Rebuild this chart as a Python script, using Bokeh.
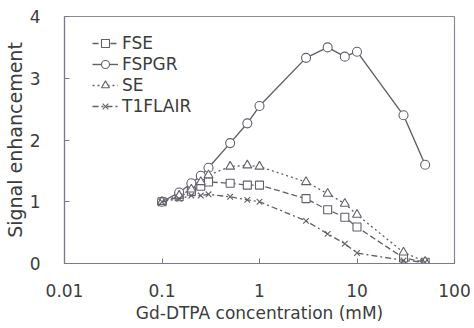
from bokeh.plotting import figure
from bokeh.models import FixedTicker, CustomJSTickFormatter, Legend, LegendItem
from bokeh.embed import file_html
from bokeh.resources import INLINE

conc = [0.1, 0.15, 0.2, 0.25, 0.3, 0.5, 0.75, 1, 3, 5, 7.5, 10, 30, 50]
fse = [1.0, 1.08, 1.17, 1.25, 1.32, 1.30, 1.27, 1.27, 1.05, 0.87, 0.75, 0.59, 0.09, 0.02]
fspgr = [1.0, 1.15, 1.3, 1.42, 1.55, 1.95, 2.27, 2.55, 3.33, 3.5, 3.35, 3.43, 2.4, 1.6]
se = [1.0, 1.1, 1.2, 1.32, 1.43, 1.57, 1.59, 1.57, 1.32, 1.13, 0.97, 0.79, 0.18, 0.03]
t1flair = [1.0, 1.05, 1.1, 1.1, 1.12, 1.08, 1.03, 1.0, 0.69, 0.48, 0.32, 0.17, 0.05, 0.02]

x_ticks = [0.01, 0.1, 1, 10, 100]
y_ticks = [0, 1, 2, 3, 4]

FONT = "DejaVu Sans"
TXT = "#3c3c3c"
LC = "#606068"

p = figure(width=474, height=328, x_axis_type="log", x_range=(0.01, 100), y_range=(0, 4),
           output_backend="svg", toolbar_location=None,
           min_border_left=64, min_border_right=20, min_border_top=16, min_border_bottom=65)
p.xgrid.visible = False
p.ygrid.visible = False
p.outline_line_color = "#8a8a98"
p.outline_line_width = 1.2

for ax in (p.xaxis[0], p.yaxis[0]):
    ax.axis_line_color = "#7a7a8c"
    ax.axis_line_width = 1.2
    ax.major_tick_in = 5
    ax.major_tick_out = 0
    ax.major_tick_line_color = "#7a7a8c"
    ax.minor_tick_line_color = None
    ax.major_label_text_font = FONT
    ax.major_label_text_font_size = "17px"
    ax.major_label_text_color = TXT
    ax.axis_label_text_font = FONT
    ax.axis_label_text_font_size = "17px"
    ax.axis_label_text_font_style = "normal"
    ax.axis_label_text_color = TXT

p.xaxis.ticker = FixedTicker(ticks=x_ticks)
p.xaxis.formatter = CustomJSTickFormatter(code="return String(Number(tick.toPrecision(3)));")
p.xaxis.major_label_standoff = 20
p.xaxis.axis_label = "Gd-DTPA concentration (mM)"
p.xaxis.axis_label_standoff = 3
p.yaxis.ticker = FixedTicker(ticks=y_ticks)
p.yaxis.major_label_standoff = 24
p.yaxis.axis_label = "Signal enhancement"
p.yaxis.axis_label_text_font_size = "19px"
p.yaxis.axis_label_standoff = 1

items = []
l1 = p.line(conc, fse, line_color=LC, line_width=1.3, line_dash="6 3")
m1 = p.scatter(conc, fse, marker="square", size=8, fill_color="white", line_color=LC, line_width=1.1)
items.append(LegendItem(label="FSE", renderers=[l1, m1]))
l2 = p.line(conc, fspgr, line_color=LC, line_width=1.4)
m2 = p.scatter(conc, fspgr, marker="circle", size=9, fill_color="white", line_color=LC, line_width=1.1)
items.append(LegendItem(label="FSPGR", renderers=[l2, m2]))
l3 = p.line(conc, se, line_color=LC, line_width=1.3, line_dash="2 3")
m3 = p.scatter(conc, se, marker="triangle", size=9, fill_color="white", line_color=LC, line_width=1.1)
items.append(LegendItem(label="SE", renderers=[l3, m3]))
l4 = p.line(conc, t1flair, line_color=LC, line_width=1.3, line_dash="6 3 2 3")
m4 = p.scatter(conc, t1flair, marker="x", size=8, line_color=LC, line_width=1.1)
items.append(LegendItem(label="T1FLAIR", renderers=[l4, m4]))

legend = Legend(items=items, location=(28, 147), border_line_color=None,
                background_fill_alpha=0, label_text_font=FONT, label_text_font_size="17px",
                label_text_color=TXT, glyph_width=26, spacing=1, padding=4,
                label_standoff=4, margin=0)
p.add_layout(legend)

open("out.html", "w").write(file_html(p, INLINE))
